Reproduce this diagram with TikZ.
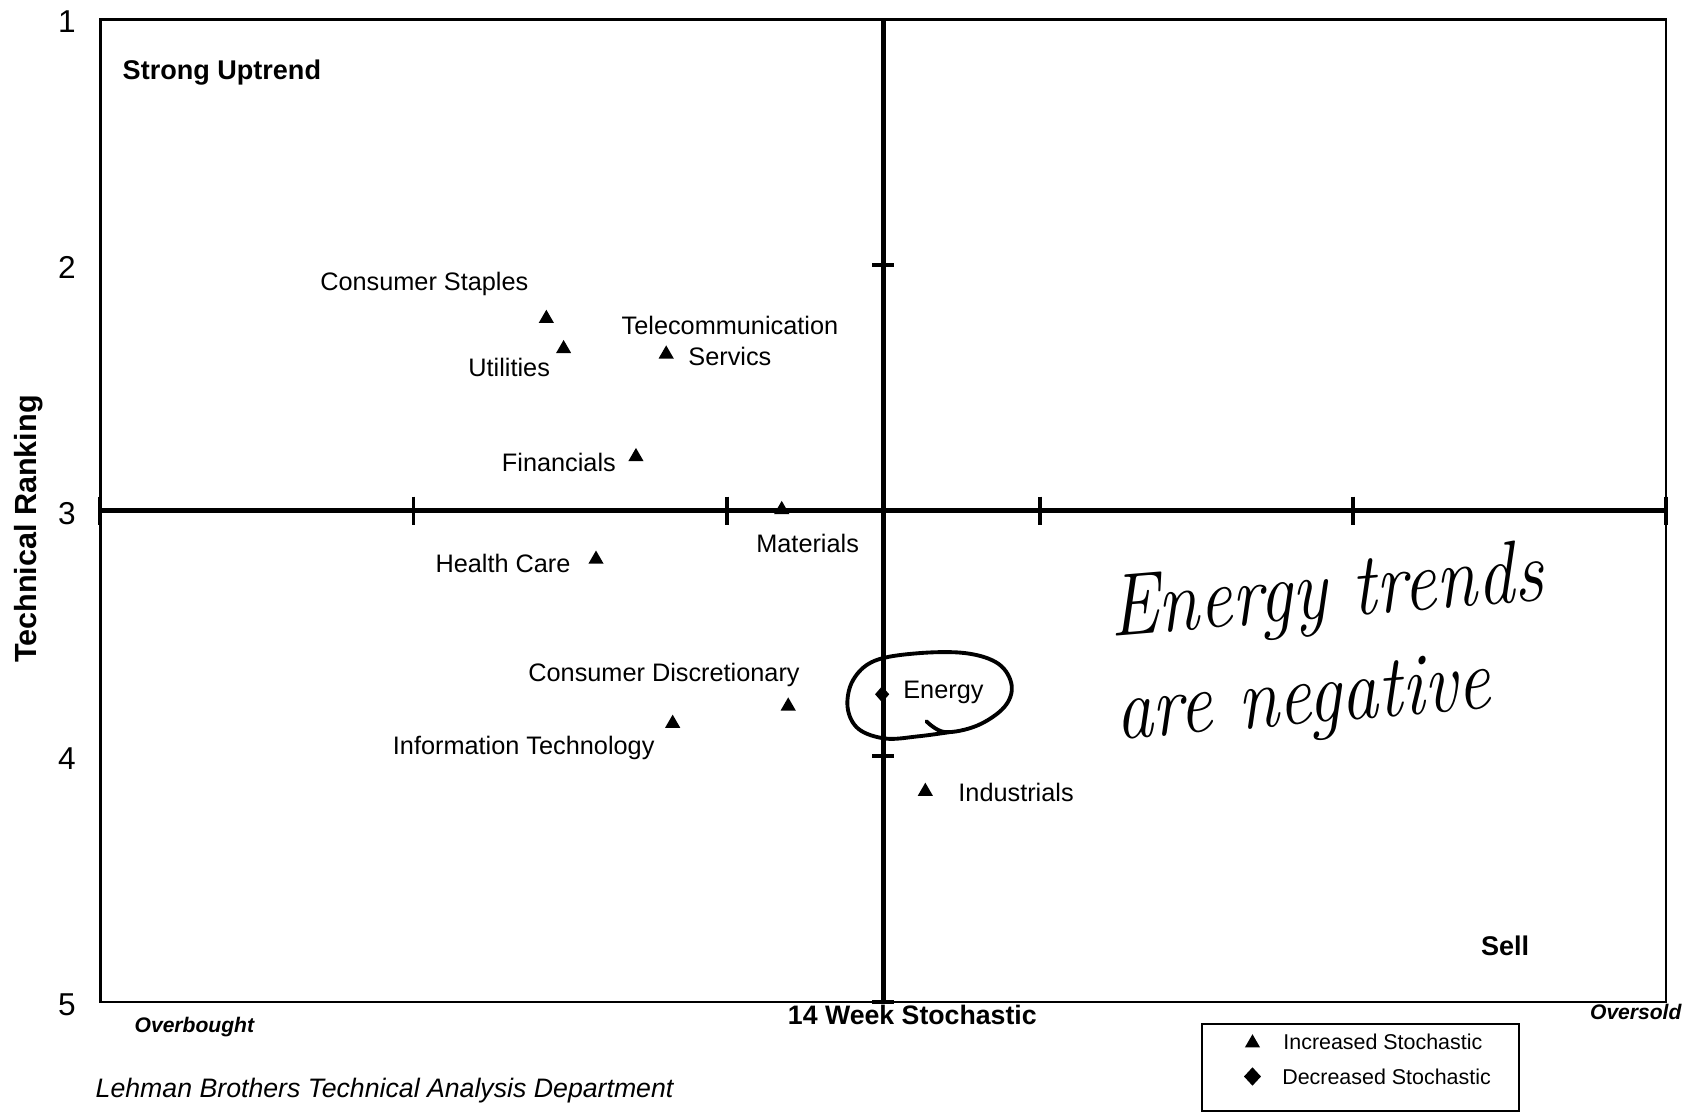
\documentclass[tikz,border=0pt]{standalone}
\usepackage{fontspec}
\setsansfont{Liberation Sans}
\usetikzlibrary{shapes.geometric}

\begin{document}
\begin{tikzpicture}[x=0.0108cm,y=-0.0108cm,
    incr/.style={regular polygon,regular polygon sides=3,fill,inner sep=0pt,minimum size=5pt},
    decr/.style={diamond,fill,inner sep=0pt,minimum width=4.2pt,minimum height=4.8pt},
    lbl/.style={font=\sffamily\fontsize{7.2}{8.9}\selectfont,inner sep=0pt},
    key/.style={font=\sffamily\fontsize{6.1}{7}\selectfont,inner sep=0pt,anchor=west},
    zone/.style={font=\sffamily\bfseries\fontsize{7.7}{9}\selectfont,inner sep=0pt},
    extreme/.style={font=\sffamily\bfseries\itshape\fontsize{6}{7}\selectfont,inner sep=0pt},
    rank/.style={font=\sffamily\fontsize{9}{10}\selectfont,inner sep=0pt},
    hand/.style={font=\rmfamily\itshape\fontsize{21}{24.5}\selectfont,inner sep=0pt,align=left,yscale=1.2,rotate=4}]
  \path[use as bounding box] (0,0) rectangle (1568,1031);

  % frame and axes
  \draw[line width=0.7pt] (93,18) rectangle (1543,928);
  \draw[line width=1.3pt] (93,473) -- (1543,473);
  \draw[line width=1.3pt] (818,18) -- (818,928);
  \foreach \x in {93,383,673,963,1253,1543}
    \draw[line width=1.1pt] (\x,460) -- (\x,486);
  \foreach \y in {18,245.5,700.5,928}
    \draw[line width=1.1pt] (808,\y) -- (828,\y);

  \foreach \r [count=\i] in {20,248,476,703,931}
    \node[rank] (r\i) at (62,\r) {\i};
  \node[zone,font=\sffamily\bfseries\fontsize{8.7}{10}\selectfont,rotate=90] (ylab) at (27,490) {Technical Ranking};
  \node[zone,anchor=west] (su) at (113,67) {Strong Uptrend};
  \node[zone] (sell) at (1394,876) {Sell};
  \node[zone,font=\sffamily\bfseries\fontsize{7.6}{9}\selectfont] (xlab) at (845,940) {14 Week Stochastic};
  \node[extreme] (ob) at (180,951) {Overbought};
  \node[extreme] (os) at (1515,937) {Oversold};
  \node[font=\sffamily\itshape\fontsize{7.6}{9}\selectfont,inner sep=0pt,anchor=west] (lb) at (88,1010) {Lehman Brothers Technical Analysis Department};

  % sectors
  \node[incr] (cs) at (506,295) {};
  \node[incr] (ut) at (522,323) {};
  \node[incr] (tel) at (617,328) {};
  \node[incr] (fin) at (589,423) {};
  \node[incr] (mat) at (724,472) {};
  \node[incr] (hc) at (552,518) {};
  \node[incr] (cd) at (730,654) {};
  \node[incr] (it) at (623,670) {};
  \node[decr] (en) at (817,643) {};
  \node[incr] (ind) at (857,733) {};

  \node[lbl] (csl) at (393,263) {Consumer Staples};
  \node[lbl,anchor=east] (utl) at (510,340) {Utilities};
  \node[lbl,align=center] (tell) at (676,316) {Telecommunication\\Servics};
  \node[lbl,anchor=east] (finl) at (571,428) {Financials};
  \node[lbl] (matl) at (748,503) {Materials};
  \node[lbl,anchor=east] (hcl) at (529,522) {Health Care};
  \node[lbl] (cdl) at (615,625) {Consumer Discretionary};
  \node[lbl] (itl) at (485,693) {Information Technology};
  \node[lbl,anchor=west] (enl) at (836,641) {Energy};
  \node[lbl,anchor=west] (indl) at (887,734) {Industrials};

  % legend
  \draw[line width=0.6pt] (1113,948) rectangle (1407,1029);
  \node[incr] (li) at (1160,966) {};
  \node[decr,minimum width=5pt,minimum height=5.4pt] (ld) at (1160,997) {};
  \node[key] (lit) at (1188,965) {Increased Stochastic};
  \node[key] (ldt) at (1187,997) {Decreased Stochastic};

  % handwritten note
  \node[hand,anchor=west] (note) at (1030,617) {Energy trends\\are negative};
  \draw[line width=1.1pt,line cap=round] plot[smooth,tension=0.6] coordinates {
    (858,668) (875,678) (905,672) (930,655) (937,635) (925,615) (895,605)
    (850,605) (810,612) (790,630) (785,655) (795,675) (820,684) (850,682) (880,678)};
\end{tikzpicture}
\end{document}
